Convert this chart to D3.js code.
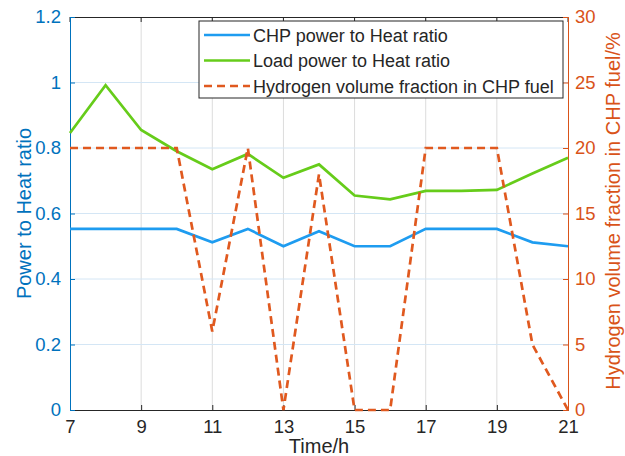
<!DOCTYPE html>
<html><head><meta charset="utf-8">
<script src="https://cdn.jsdelivr.net/npm/d3@7"></script>
<style>body{margin:0;background:#fff}svg{display:block;font-family:"Liberation Sans",Arial,sans-serif}</style>
</head><body><svg id="c" width="625" height="456"></svg>
<script>
const hours = [7,8,9,10,11,12,13,14,15,16,17,18,19,20,21];
const chpRatio = [0.553,0.553,0.553,0.553,0.512,0.553,0.5,0.546,0.5,0.5,0.553,0.553,0.553,0.512,0.5];
const loadRatio = [0.846,0.992,0.855,0.79,0.735,0.782,0.709,0.75,0.655,0.643,0.669,0.669,0.672,0.722,0.77];
const h2Frac = [20,20,20,20,6,20,0,18,0,0,20,20,20,5,0];
const xTicks = [7,9,11,13,15,17,19,21];
const yLeftTicks = [0,0.2,0.4,0.6,0.8,1,1.2];
const yRightTicks = [0,5,10,15,20,25,30];
const seriesNames = ["CHP power to Heat ratio","Load power to Heat ratio","Hydrogen volume fraction in CHP fuel"];

const svg = d3.select("#c");
const L=70,R=568,T=17,B=410;
const x = d3.scaleLinear().domain([7,21]).range([L,R]);
const yl = d3.scaleLinear().domain([0,1.2]).range([B,T]);
const yr = d3.scaleLinear().domain([0,30]).range([B,T]);
const blueAx="#0072BD", orangeAx="#D95319";
const FF="Liberation Sans, Arial, sans-serif";

// grid
svg.append("g").selectAll("line").data(xTicks.slice(1,-1)).join("line")
  .attr("x1",d=>x(d)).attr("x2",d=>x(d)).attr("y1",T).attr("y2",B)
  .attr("stroke","#dcdcdc").attr("stroke-width",1);
svg.append("g").selectAll("line").data(yLeftTicks.slice(1,-1)).join("line")
  .attr("x1",L).attr("x2",R).attr("y1",d=>yl(d)).attr("y2",d=>yl(d))
  .attr("stroke","#d4e6f5").attr("stroke-width",1);

// top border
svg.append("line").attr("x1",L).attr("x2",R).attr("y1",T+0.5).attr("y2",T+0.5).attr("stroke","#262626");

// x axis
const gx = svg.append("g").attr("transform",`translate(0,${B})`)
  .call(d3.axisBottom(x).tickValues(xTicks).tickSize(-5).tickPadding(10).tickFormat(d3.format("d")));
gx.select(".domain").attr("stroke","#262626");
gx.selectAll(".tick line").attr("stroke","#262626");
gx.selectAll("text").attr("font-size",18.5).attr("fill","#262626").attr("font-family",FF);
svg.append("g").selectAll("line").data(xTicks).join("line")
  .attr("x1",d=>x(d)).attr("x2",d=>x(d)).attr("y1",T).attr("y2",T+5).attr("stroke","#262626");

// left axis
const gl = svg.append("g").attr("transform",`translate(${L},0)`)
  .call(d3.axisLeft(yl).tickValues(yLeftTicks).tickSize(-5).tickPadding(9).tickFormat(d=>d3.format("")(d)));
gl.select(".domain").attr("stroke",blueAx);
gl.selectAll(".tick line").attr("stroke",blueAx);
gl.selectAll("text").attr("font-size",18.5).attr("fill",blueAx).attr("font-family",FF);

// right axis
const gr = svg.append("g").attr("transform",`translate(${R},0)`)
  .call(d3.axisRight(yr).tickValues(yRightTicks).tickSize(-5).tickPadding(7));
gr.select(".domain").attr("stroke",orangeAx);
gr.selectAll(".tick line").attr("stroke",orangeAx);
gr.selectAll("text").attr("font-size",18.5).attr("fill",orangeAx).attr("font-family",FF);

// lines
const lineL = d3.line().x((d,i)=>x(hours[i])).y(d=>yl(d));
const lineR = d3.line().x((d,i)=>x(hours[i])).y(d=>yr(d));
svg.append("path").datum(chpRatio).attr("d",lineL).attr("fill","none").attr("stroke","#1E9CF0").attr("stroke-width",2.7);
svg.append("path").datum(loadRatio).attr("d",lineL).attr("fill","none").attr("stroke","#66CC1A").attr("stroke-width",2.7);
svg.append("path").datum(h2Frac).attr("d",lineR).attr("fill","none").attr("stroke","#E0591F").attr("stroke-width",2.7).attr("stroke-dasharray","8,5");

// axis titles
svg.append("text").attr("transform",`translate(31,${(T+B)/2}) rotate(-90)`).attr("text-anchor","middle")
  .attr("font-size",20).attr("fill",blueAx).text("Power to Heat ratio");
svg.append("text").attr("transform",`translate(620,211) rotate(-90)`).attr("text-anchor","middle")
  .attr("font-size",20).attr("fill",orangeAx).text("Hydrogen volume fraction in CHP fuel/%");
svg.append("text").attr("x",(L+R)/2).attr("y",453).attr("text-anchor","middle")
  .attr("font-size",20).attr("fill","#262626").text("Time/h");

// legend
const lg = svg.append("g");
lg.append("rect").attr("x",199).attr("y",21).attr("width",364).attr("height",77)
  .attr("fill","#fff").attr("stroke","#262626").attr("stroke-width",1);
const styles=[{c:"#1E9CF0",d:null},{c:"#66CC1A",d:null},{c:"#E0591F",d:"8,5"}];
seriesNames.forEach((n,i)=>{
  const yy = 35 + i*25.5;
  lg.append("line").attr("x1",204).attr("x2",250).attr("y1",yy).attr("y2",yy)
    .attr("stroke",styles[i].c).attr("stroke-width",2.7).attr("stroke-dasharray",styles[i].d);
  lg.append("text").attr("x",253).attr("y",yy+6.5).attr("font-size",18).attr("fill","#262626").text(n);
});
</script></body></html>
